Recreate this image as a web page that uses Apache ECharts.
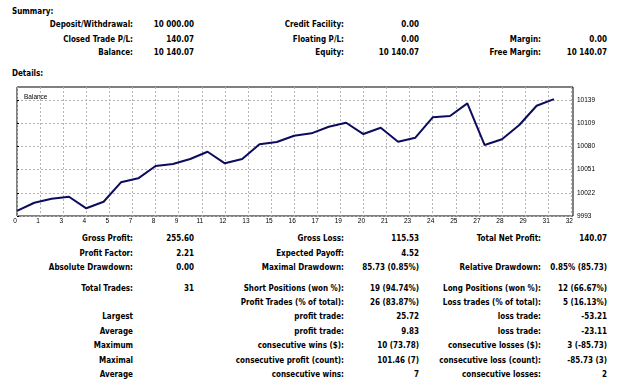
<!DOCTYPE html>
<html>
<head>
<meta charset="utf-8">
<script src="https://cdn.jsdelivr.net/npm/echarts@6/dist/echarts.min.js"></script>
<style>
  body { margin: 0; background: #fff; }
  .page { position: relative; width: 625px; height: 385px; overflow: hidden;
    font-family: "DejaVu Sans Condensed", "Liberation Sans", sans-serif; font-size: 8px; font-weight: bold; color: #000; }
  .page div { position: absolute; white-space: nowrap; line-height: 10px; }
  .head { left: 12px; }
  .l1 { right: 492px; } .v1 { right: 431px; }
  .l2 { right: 281px; } .v2 { right: 206px; }
  .l3 { right: 84px; }  .v3 { right: 18px; }
  #balance { position: absolute; left: 0; top: 80px; width: 625px; height: 150px; }
</style>
</head>
<body>
<div class="page" id="page">
  <div class="head" style="top:7px">Summary:</div>
  <div class="head" style="top:69px">Details:</div>
  <div id="balance"></div>
</div>
<script>
// balance after each trade (0 = initial deposit)
const balance = [10000.00, 10010.2, 10015.2, 10017.7, 10003.2, 10011.4, 10035.8, 10040.8,
  10056.2, 10058.7, 10065.0, 10074.1, 10059.6, 10065.0, 10083.4, 10086.3, 10094.2, 10097.2,
  10105.5, 10110.5, 10096.3, 10104.2, 10086.7, 10091.7, 10117.3, 10118.9, 10134.8, 10082.5,
  10089.7, 10107.6, 10131.8, 10140.07]

// x ticks: 24 divisions over 0..32 trades
const xTickValues = [0, 4/3, 8/3, 4, 16/3, 20/3, 8, 28/3, 32/3, 12, 40/3, 44/3, 16, 52/3, 56/3, 20,
  64/3, 68/3, 24, 76/3, 80/3, 28, 88/3, 92/3, 32]
const xTickLabels = ['0','1','3','4','5','7','8','9','11','12','13','15','16','17','19','20','21',
  '23','24','25','27','28','29','31','32']
const yTickValues = [9993.55, 10022.65, 10051.75, 10080.85, 10109.95, 10139.05]
const yTickLabels = ['9993','10022','10051','10080','10109','10139']

// report tables: [top, class, text]
const summaryCells = [
  [20, 'l1', 'Deposit/Withdrawal:'], [20, 'v1', '10 000.00'], [20, 'l2', 'Credit Facility:'], [20, 'v2', '0.00'],
  [35, 'l1', 'Closed Trade P/L:'], [35, 'v1', '140.07'], [35, 'l2', 'Floating P/L:'], [35, 'v2', '0.00'],
  [35, 'l3', 'Margin:'], [35, 'v3', '0.00'],
  [48, 'l1', 'Balance:'], [48, 'v1', '10 140.07'], [48, 'l2', 'Equity:'], [48, 'v2', '10 140.07'],
  [48, 'l3', 'Free Margin:'], [48, 'v3', '10 140.07']
]
const detailCells = [
  [234, 'l1', 'Gross Profit:'], [234, 'v1', '255.60'], [234, 'l2', 'Gross Loss:'], [234, 'v2', '115.53'],
  [234, 'l3', 'Total Net Profit:'], [234, 'v3', '140.07'],
  [249, 'l1', 'Profit Factor:'], [249, 'v1', '2.21'], [249, 'l2', 'Expected Payoff:'], [249, 'v2', '4.52'],
  [263, 'l1', 'Absolute Drawdown:'], [263, 'v1', '0.00'], [263, 'l2', 'Maximal Drawdown:'], [263, 'v2', '85.73 (0.85%)'],
  [263, 'l3', 'Relative Drawdown:'], [263, 'v3', '0.85% (85.73)'],
  [284, 'l1', 'Total Trades:'], [284, 'v1', '31'], [284, 'l2', 'Short Positions (won %):'], [284, 'v2', '19 (94.74%)'],
  [284, 'l3', 'Long Positions (won %):'], [284, 'v3', '12 (66.67%)'],
  [298, 'l2', 'Profit Trades (% of total):'], [298, 'v2', '26 (83.87%)'],
  [298, 'l3', 'Loss trades (% of total):'], [298, 'v3', '5 (16.13%)'],
  [312, 'l1', 'Largest'], [312, 'l2', 'profit trade:'], [312, 'v2', '25.72'], [312, 'l3', 'loss trade:'], [312, 'v3', '-53.21'],
  [327, 'l1', 'Average'], [327, 'l2', 'profit trade:'], [327, 'v2', '9.83'], [327, 'l3', 'loss trade:'], [327, 'v3', '-23.11'],
  [341, 'l1', 'Maximum'], [341, 'l2', 'consecutive wins ($):'], [341, 'v2', '10 (73.78)'],
  [341, 'l3', 'consecutive losses ($):'], [341, 'v3', '3 (-85.73)'],
  [356, 'l1', 'Maximal'], [356, 'l2', 'consecutive profit (count):'], [356, 'v2', '101.46 (7)'],
  [356, 'l3', 'consecutive loss (count):'], [356, 'v3', '-85.73 (3)'],
  [370, 'l1', 'Average'], [370, 'l2', 'consecutive wins:'], [370, 'v2', '7'],
  [370, 'l3', 'consecutive losses:'], [370, 'v3', '2']
]

const page = document.getElementById('page')
summaryCells.concat(detailCells).forEach(function (c) {
  const d = document.createElement('div')
  d.className = c[1]
  d.style.top = c[0] + 'px'
  d.textContent = c[2]
  page.appendChild(d)
})

const chart = echarts.init(document.getElementById('balance'))
const gridLine = { show: true, lineStyle: { color: '#b4b4b4', type: [2, 2], width: 1 } }

const option = {
  animation: false,
  title: {
    text: 'Balance', left: 19, top: 9,
    textStyle: { fontSize: 6.5, fontWeight: 'normal', color: '#000', fontFamily: 'Liberation Sans' }
  },
  grid: { left: 17, top: 7, width: 556, height: 129, show: true, borderColor: '#000', borderWidth: 1 },
  xAxis: {
    type: 'value', min: 0, max: 32.1,
    axisLine: { show: false },
    axisTick: { show: false, customValues: xTickValues },
    splitLine: gridLine,
    axisLabel: {
      customValues: xTickValues, margin: 2, fontSize: 6.5, color: '#000', fontFamily: 'Liberation Sans',
      padding: [0, 4, 0, 0],
      formatter: function (v) {
        const i = xTickValues.findIndex(function (t) { return Math.abs(t - v) < 1e-6 })
        return i >= 0 ? xTickLabels[i] : ''
      }
    }
  },
  yAxis: {
    type: 'value', position: 'right', min: 9993.55, max: 10155.3,
    axisLine: { show: false },
    axisTick: { show: true, length: 2, inside: false, customValues: yTickValues, lineStyle: { color: '#000' } },
    splitLine: gridLine,
    axisLabel: {
      customValues: yTickValues, margin: 4, fontSize: 6.5, color: '#000', fontFamily: 'Liberation Sans',
      formatter: function (v) {
        const i = yTickValues.findIndex(function (t) { return Math.abs(t - v) < 1e-6 })
        return i >= 0 ? yTickLabels[i] : ''
      }
    }
  },
  series: [{
    type: 'line',
    data: balance.map(function (v, i) { return [i, v] }),
    showSymbol: false,
    lineStyle: { color: '#0c0c5e', width: 2 },
    itemStyle: { color: '#0c0c5e' }
  }]
}
chart.setOption(option)
</script>
</body>
</html>
